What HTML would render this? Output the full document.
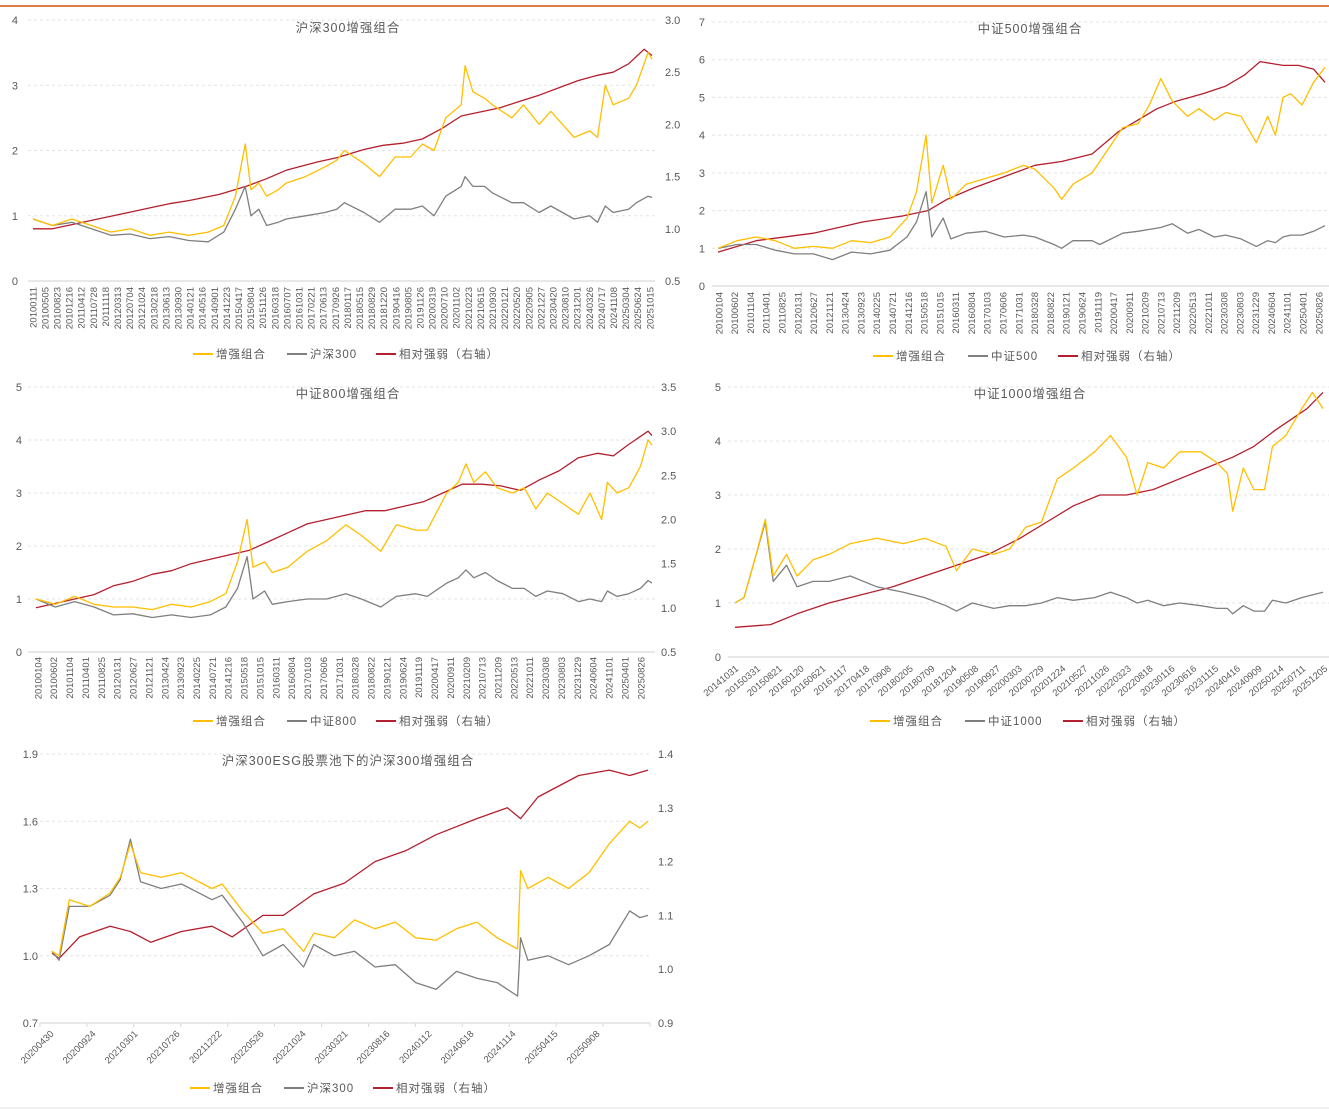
<!DOCTYPE html>
<html><head><meta charset="utf-8">
<style>
html,body{margin:0;padding:0;background:#fff;}
svg{display:block;font-family:"Liberation Sans","Noto Sans CJK SC",sans-serif;}
.tk{font-size:11px;fill:#595959;}
.xl{font-size:9.5px;fill:#595959;}
.tt{font-size:12.5px;fill:#595959;letter-spacing:1px;}
.lg{font-size:11.5px;fill:#595959;letter-spacing:1px;}
.grid{stroke:#e3e3e3;stroke-dasharray:3,3;stroke-width:1;}
.base{stroke:#d9d9d9;stroke-width:1.2;}
</style></head>
<body>
<svg id="chart" width="1329" height="1110" viewBox="0 0 1329 1110">
<line x1="0" y1="6" x2="1329" y2="6" stroke="#e27b45" stroke-width="2"/>
<line x1="0" y1="1108" x2="1329" y2="1108" stroke="#e6e6e6" stroke-width="1"/>
</svg>
<script>
// ---------- Panel 1: 沪深300增强组合 ----------
const p1Dates=[2010.0,2010.5,2011.0,2011.5,2012.0,2012.5,2013.0,2013.5,2014.0,2014.5,2014.9,2015.2,2015.45,2015.6,2015.8,2016.0,2016.3,2016.5,2017.0,2017.5,2017.8,2018.0,2018.5,2018.9,2019.3,2019.7,2020.0,2020.3,2020.6,2021.0,2021.1,2021.3,2021.6,2021.8,2022.3,2022.6,2023.0,2023.3,2023.6,2023.9,2024.3,2024.5,2024.7,2024.9,2025.3,2025.5,2025.8,2025.9];
const p1Enh=[0.95,0.85,0.95,0.85,0.75,0.8,0.7,0.75,0.7,0.75,0.85,1.3,2.1,1.4,1.5,1.3,1.4,1.5,1.6,1.75,1.85,2.0,1.8,1.6,1.9,1.9,2.1,2.0,2.5,2.7,3.3,2.9,2.8,2.7,2.5,2.7,2.4,2.6,2.4,2.2,2.3,2.2,3.0,2.7,2.8,3.0,3.5,3.4];
const p1Idx=[0.95,0.85,0.9,0.8,0.7,0.72,0.65,0.68,0.62,0.6,0.75,1.1,1.45,1.0,1.1,0.85,0.9,0.95,1.0,1.05,1.1,1.2,1.05,0.9,1.1,1.1,1.15,1.0,1.3,1.45,1.6,1.45,1.45,1.35,1.2,1.2,1.05,1.15,1.05,0.95,1.0,0.9,1.15,1.05,1.1,1.2,1.3,1.28];
const p1RelDates=[2010,2010.5,2011,2011.5,2012,2012.5,2013,2013.5,2014,2014.8,2015.5,2016,2016.5,2017.3,2017.8,2018.5,2019,2019.5,2020,2020.5,2021,2021.5,2022,2022.5,2023,2023.5,2024,2024.5,2024.9,2025.3,2025.7,2025.9];
const p1Rel=[1.0,1.0,1.04,1.08,1.12,1.16,1.2,1.24,1.27,1.33,1.41,1.48,1.56,1.64,1.68,1.76,1.8,1.82,1.86,1.96,2.08,2.12,2.16,2.22,2.28,2.35,2.42,2.47,2.5,2.58,2.72,2.66];
const p1XLabels=["20100111","20100505","20100823","20101216","20110412","20110728","20111118","20120313","20120704","20121024","20130218","20130613","20130930","20140121","20140516","20140901","20141223","20150417","20150804","20151126","20160318","20160707","20161031","20170221","20170613","20170926","20180117","20180515","20180829","20181220","20190416","20190805","20191126","20200319","20200710","20201102","20210223","20210615","20210930","20220121","20220520","20220905","20221227","20230420","20230810","20231201","20240326","20240717","20241108","20250304","20250624","20251015"];
const p1LeftTicks=[0,1,2,3,4];
const p1RightTicks=["0.5","1.0","1.5","2.0","2.5","3.0"];

// ---------- Panel 2: 中证500增强组合 ----------
const p2Dates=[2010,2010.5,2011,2011.5,2012,2012.5,2013,2013.5,2014,2014.5,2014.95,2015.2,2015.45,2015.6,2015.9,2016.1,2016.5,2017,2017.5,2018,2018.3,2018.8,2019.0,2019.3,2019.8,2020.0,2020.6,2021,2021.3,2021.6,2021.9,2022.3,2022.6,2023,2023.3,2023.7,2024.1,2024.4,2024.6,2024.8,2025.0,2025.3,2025.6,2025.9];
const p2Enh=[1.0,1.2,1.3,1.2,1.0,1.05,1.0,1.2,1.15,1.3,1.8,2.5,4.0,2.2,3.2,2.3,2.7,2.85,3.0,3.2,3.1,2.6,2.3,2.7,3.0,3.3,4.2,4.3,4.8,5.5,4.9,4.5,4.7,4.4,4.6,4.5,3.8,4.5,4.0,5.0,5.1,4.8,5.4,5.8];
const p2Idx=[1.0,1.1,1.1,0.95,0.85,0.85,0.7,0.9,0.85,0.95,1.3,1.7,2.5,1.3,1.8,1.25,1.4,1.45,1.3,1.35,1.3,1.1,1.0,1.2,1.2,1.1,1.4,1.45,1.5,1.55,1.65,1.4,1.5,1.3,1.35,1.25,1.05,1.2,1.15,1.3,1.35,1.35,1.45,1.6];
const p2RelDates=[2010,2011,2012.5,2013.8,2014.8,2015.5,2016,2016.7,2017.5,2018.3,2019,2019.8,2020.5,2021,2021.5,2022,2022.7,2023.3,2023.8,2024.2,2024.8,2025.2,2025.6,2025.9];
const p2Rel=[0.9,1.2,1.4,1.7,1.85,2.0,2.3,2.6,2.9,3.2,3.3,3.5,4.1,4.4,4.7,4.9,5.1,5.3,5.6,5.95,5.85,5.85,5.75,5.4];
const p2XLabels=["20100104","20100602","20101104","20110401","20110825","20120131","20120627","20121121","20130424","20130923","20140225","20140721","20141216","20150518","20151015","20160311","20160804","20170103","20170606","20171031","20180328","20180822","20190121","20190624","20191119","20200417","20200911","20210209","20210713","20211209","20220513","20221011","20230308","20230803","20231229","20240604","20241101","20250401","20250826"];
const p2LeftTicks=[0,1,2,3,4,5,6,7];

// ---------- Panel 3: 中证800增强组合 ----------
const p3Dates=[2010,2010.5,2011,2011.5,2012,2012.5,2013,2013.5,2014,2014.5,2014.9,2015.2,2015.45,2015.6,2015.9,2016.1,2016.5,2017,2017.5,2018,2018.4,2018.9,2019.3,2019.8,2020.1,2020.6,2020.9,2021.1,2021.3,2021.6,2021.9,2022.3,2022.6,2022.9,2023.2,2023.6,2024.0,2024.3,2024.6,2024.75,2025.0,2025.3,2025.6,2025.8,2025.9];
const p3Enh=[1.0,0.9,1.05,0.9,0.85,0.85,0.8,0.9,0.85,0.95,1.1,1.7,2.5,1.6,1.7,1.5,1.6,1.9,2.1,2.4,2.2,1.9,2.4,2.3,2.3,3.0,3.2,3.55,3.2,3.4,3.1,3.0,3.1,2.7,3.0,2.8,2.6,3.0,2.5,3.2,3.0,3.1,3.5,4.0,3.9];
const p3Idx=[1.0,0.85,0.95,0.85,0.7,0.72,0.65,0.7,0.65,0.7,0.85,1.2,1.8,1.0,1.15,0.9,0.95,1.0,1.0,1.1,1.0,0.85,1.05,1.1,1.05,1.3,1.4,1.55,1.4,1.5,1.35,1.2,1.2,1.05,1.15,1.1,0.95,1.0,0.95,1.15,1.05,1.1,1.2,1.35,1.3];
const p3RelDates=[2010,2010.5,2011,2011.5,2012,2012.5,2013,2013.5,2014,2014.5,2015,2015.5,2016,2016.5,2017,2017.5,2018,2018.5,2019,2019.5,2020,2020.5,2021,2021.5,2022,2022.5,2023,2023.5,2024,2024.5,2024.9,2025.3,2025.8,2025.9];
const p3Rel=[1.0,1.05,1.1,1.15,1.25,1.3,1.38,1.42,1.5,1.55,1.6,1.65,1.75,1.85,1.95,2.0,2.05,2.1,2.1,2.15,2.2,2.3,2.4,2.4,2.38,2.33,2.45,2.55,2.7,2.75,2.72,2.85,3.0,2.95];
const p3XLabels=p2XLabels;
const p3LeftTicks=[0,1,2,3,4,5];
const p3RightTicks=["0.5","1.0","1.5","2.0","2.5","3.0","3.5"];

// ---------- Panel 4: 中证1000增强组合 ----------
const p4Dates=[2014.83,2015.0,2015.2,2015.4,2015.55,2015.8,2016.0,2016.3,2016.6,2017.0,2017.5,2018.0,2018.4,2018.8,2019.0,2019.3,2019.7,2020.0,2020.3,2020.6,2020.9,2021.2,2021.6,2021.9,2022.2,2022.4,2022.6,2022.9,2023.2,2023.6,2023.9,2024.1,2024.2,2024.4,2024.6,2024.8,2024.95,2025.2,2025.5,2025.7,2025.9];
const p4Enh=[1.0,1.1,1.8,2.55,1.5,1.9,1.5,1.8,1.9,2.1,2.2,2.1,2.2,2.05,1.6,2.0,1.9,2.0,2.4,2.5,3.3,3.5,3.8,4.1,3.7,3.0,3.6,3.5,3.8,3.8,3.6,3.4,2.7,3.5,3.1,3.1,3.9,4.1,4.6,4.9,4.6];
const p4Idx=[1.0,1.1,1.8,2.5,1.4,1.7,1.3,1.4,1.4,1.5,1.3,1.2,1.1,0.95,0.85,1.0,0.9,0.95,0.95,1.0,1.1,1.05,1.1,1.2,1.1,1.0,1.05,0.95,1.0,0.95,0.9,0.9,0.8,0.95,0.85,0.85,1.05,1.0,1.1,1.15,1.2];
const p4RelDates=[2014.83,2015.5,2016.0,2016.6,2017.2,2017.8,2018.4,2019.0,2019.6,2020.2,2020.7,2021.2,2021.7,2022.2,2022.7,2023.2,2023.7,2024.2,2024.6,2025.0,2025.3,2025.6,2025.9];
const p4Rel=[0.55,0.6,0.8,1.0,1.15,1.3,1.5,1.7,1.9,2.2,2.5,2.8,3.0,3.0,3.1,3.3,3.5,3.7,3.9,4.2,4.4,4.6,4.9];
const p4XLabels=["20141031","20150331","20150821","20160120","20160621","20161117","20170418","20170908","20180205","20180709","20181204","20190508","20190927","20200303","20200729","20201224","20210527","20211026","20220323","20220818","20230116","20230616","20231115","20240416","20240909","20250214","20250711","20251205"];
const p4LeftTicks=[0,1,2,3,4,5];

// ---------- Panel 5: 沪深300ESG股票池下的沪深300增强组合 ----------
const p5Dates=[2020.33,2020.4,2020.5,2020.7,2020.9,2021.0,2021.1,2021.2,2021.4,2021.6,2021.9,2022.0,2022.2,2022.4,2022.6,2022.8,2022.9,2023.1,2023.3,2023.5,2023.7,2023.9,2024.1,2024.3,2024.5,2024.7,2024.9,2024.93,2025.0,2025.2,2025.4,2025.6,2025.8,2026.0,2026.1,2026.18];
const p5Enh=[1.02,1.0,1.25,1.22,1.28,1.35,1.5,1.37,1.35,1.37,1.30,1.32,1.2,1.1,1.12,1.02,1.1,1.08,1.16,1.12,1.15,1.08,1.07,1.12,1.15,1.08,1.03,1.38,1.3,1.35,1.3,1.37,1.5,1.6,1.57,1.6];
const p5Idx=[1.02,0.98,1.22,1.22,1.27,1.34,1.52,1.33,1.3,1.32,1.25,1.27,1.15,1.0,1.05,0.95,1.05,1.0,1.02,0.95,0.96,0.88,0.85,0.93,0.9,0.88,0.82,1.08,0.98,1.0,0.96,1.0,1.05,1.2,1.17,1.18];
const p5RelDates=[2020.33,2020.4,2020.6,2020.9,2021.1,2021.3,2021.6,2021.9,2022.1,2022.4,2022.6,2022.9,2023.2,2023.5,2023.8,2024.1,2024.5,2024.8,2024.93,2025.1,2025.5,2025.8,2026.0,2026.18];
const p5Rel=[1.03,1.02,1.06,1.08,1.07,1.05,1.07,1.08,1.06,1.1,1.1,1.14,1.16,1.2,1.22,1.25,1.28,1.3,1.28,1.32,1.36,1.37,1.36,1.37];
const p5XLabels=["20200430","20200924","20210301","20210726","20211222","20220526","20221024","20230321","20230816","20240112","20240618","20241114","20250415","20250908"];
const p5LeftTicks=["0.7","1.0","1.3","1.6","1.9"];
const p5RightTicks=["0.9","1.0","1.1","1.2","1.3","1.4"];

const NS="http://www.w3.org/2000/svg";
const svg=document.getElementById('chart');
function mk(tag,attrs,parent){const e=document.createElementNS(NS,tag);for(const k in attrs)e.setAttribute(k,attrs[k]);(parent||svg).appendChild(e);return e;}
function scale(d0,d1,r0,r1){return v=>r0+(v-d0)/(d1-d0)*(r1-r0);}

const YEL="#ffbf00",GRY="#7f7f7f",RED="#b41f2d";

function panel(cfg){
  const g=mk('g',{});
  
  
  const x=scale(cfg.xd[0],cfg.xd[1],cfg.px0,cfg.px1);
  const yl=scale(cfg.yl[0],cfg.yl[1],cfg.py0,cfg.py1);
  const yr=cfg.yr?scale(cfg.yr[0],cfg.yr[1],cfg.py0,cfg.py1):yl;
  cfg.leftTicks.forEach(t=>{
    const v=+t,yy=yl(v);
    const ln=mk('line',{x1:cfg.gx0,x2:cfg.gx1,y1:yy,y2:yy,class:v===cfg.yl[0]?'base':'grid'},g);
    
    
    const tx=mk('text',{x:cfg.lx,y:yy+4,class:'tk','text-anchor':'end'},g);
    tx.textContent=typeof t==='number'?String(t):t;
    
    
  });
  if(cfg.rightTicks){
    cfg.rightTicks.forEach(t=>{
      const yy=yr(+t);
      const tx=mk('text',{x:cfg.rx,y:yy+4,class:'tk','text-anchor':'start'},g);
      tx.textContent=t;
      
      
    });
  }
  const n=cfg.xLabels.length;
  cfg.xLabels.forEach((lab,i)=>{
    const xx=cfg.xl0+(cfg.xl1-cfg.xl0)*i/(n-1);
    const tx=mk('text',{x:xx,y:cfg.xly,class:'xl','text-anchor':'end',transform:`rotate(${cfg.rot} ${xx} ${cfg.xly})`,dy:'0.35em'},g);
    tx.textContent=lab;
    
    
  });
  if(cfg.tickMarks){
    for(let i=0;i<cfg.tickMarks;i++){
      const xx=cfg.gx0+(cfg.gx1-cfg.gx0)*i/(cfg.tickMarks-1);
      const tm=mk('line',{x1:xx,x2:xx,y1:cfg.py0,y2:cfg.py0+4,stroke:'#d9d9d9'},g);
      
      
    }
  }
  const tt=mk('text',{x:cfg.tx,y:cfg.ty,class:'tt','text-anchor':'middle'},g);
  tt.textContent=cfg.title;
  
  
  function line(dates,vals,ys,color,nm){
    const d=dates.map((dt,i)=>(i?'L':'M')+x(dt).toFixed(1)+','+ys(vals[i]).toFixed(1)).join('');
    const p=mk('path',{d:d,fill:'none',stroke:color,'stroke-width':1.3,'stroke-linejoin':'round'},g);
    
    
  }
  line(cfg.relDates,cfg.rel,yr,RED,'relative-strength-line');
  line(cfg.dates,cfg.idx,yl,GRY,'index-line');
  line(cfg.dates,cfg.enh,yl,YEL,'enhanced-portfolio-line');
  const items=[[YEL,'增强组合'],[GRY,cfg.idxName],[RED,'相对强弱（右轴）']];
  items.forEach((it,i)=>{
    const lx=cfg.leg[i];
    const gg=mk('g',{},g);
    
    
    mk('line',{x1:lx,x2:lx+20,y1:cfg.legY,y2:cfg.legY,stroke:it[0],'stroke-width':2},gg);
    const tx=mk('text',{x:lx+23,y:cfg.legY+4,class:'lg'},gg);
    tx.textContent=it[1];
  });
}

panel({name:'panel-hs300',title:'沪深300增强组合',tx:348,ty:32,xd:[2010,2025.9],px0:33,px1:652,yl:[0,4],py0:281,py1:20,yr:[0.5,3.0],
  gx0:28,gx1:655,lx:18,rx:665,leftTicks:p1LeftTicks,rightTicks:p1RightTicks,xLabels:p1XLabels,xl0:33,xl1:650,xly:287,rot:-90,
  dates:p1Dates,enh:p1Enh,idx:p1Idx,relDates:p1RelDates,rel:p1Rel,idxName:'沪深300',leg:[193,287,376],legY:354});
panel({name:'panel-zz500',title:'中证500增强组合',tx:1030,ty:33,xd:[2010,2025.9],px0:718,px1:1325,yl:[0,7],py0:286,py1:22,
  gx0:712,gx1:1329,lx:705,leftTicks:p2LeftTicks,xLabels:p2XLabels,xl0:719,xl1:1319,xly:292,rot:-90,
  dates:p2Dates,enh:p2Enh,idx:p2Idx,relDates:p2RelDates,rel:p2Rel,idxName:'中证500',leg:[873,968,1058],legY:356});
panel({name:'panel-zz800',title:'中证800增强组合',tx:348,ty:398,xd:[2010,2025.9],px0:36,px1:652,yl:[0,5],py0:652,py1:387,yr:[0.5,3.5],
  gx0:28,gx1:655,lx:22,rx:661,leftTicks:p3LeftTicks,rightTicks:p3RightTicks,xLabels:p3XLabels,xl0:38,xl1:641,xly:657,rot:-90,
  dates:p3Dates,enh:p3Enh,idx:p3Idx,relDates:p3RelDates,rel:p3Rel,idxName:'中证800',leg:[193,287,376],legY:721});
panel({name:'panel-zz1000',title:'中证1000增强组合',tx:1030,ty:398,xd:[2014.83,2025.9],px0:735,px1:1323,yl:[0,5],py0:657,py1:387,
  gx0:728,gx1:1329,lx:721,leftTicks:p4LeftTicks,xLabels:p4XLabels,xl0:737,xl1:1326,xly:667,rot:-40,
  dates:p4Dates,enh:p4Enh,idx:p4Idx,relDates:p4RelDates,rel:p4Rel,idxName:'中证1000',leg:[870,965,1063],legY:721});
panel({name:'panel-esg-hs300',title:'沪深300ESG股票池下的沪深300增强组合',tx:348,ty:765,xd:[2020.33,2026.18],px0:52,px1:648,yl:[0.7,1.9],py0:1023,py1:754,yr:[0.9,1.4],
  gx0:40,gx1:650,lx:38,rx:658,leftTicks:p5LeftTicks,rightTicks:p5RightTicks,xLabels:p5XLabels,xl0:52,xl1:598,xly:1032,rot:-45,tickMarks:14,
  dates:p5Dates,enh:p5Enh,idx:p5Idx,relDates:p5RelDates,rel:p5Rel,idxName:'沪深300',leg:[190,284,373],legY:1088});
</script>
</body></html>
